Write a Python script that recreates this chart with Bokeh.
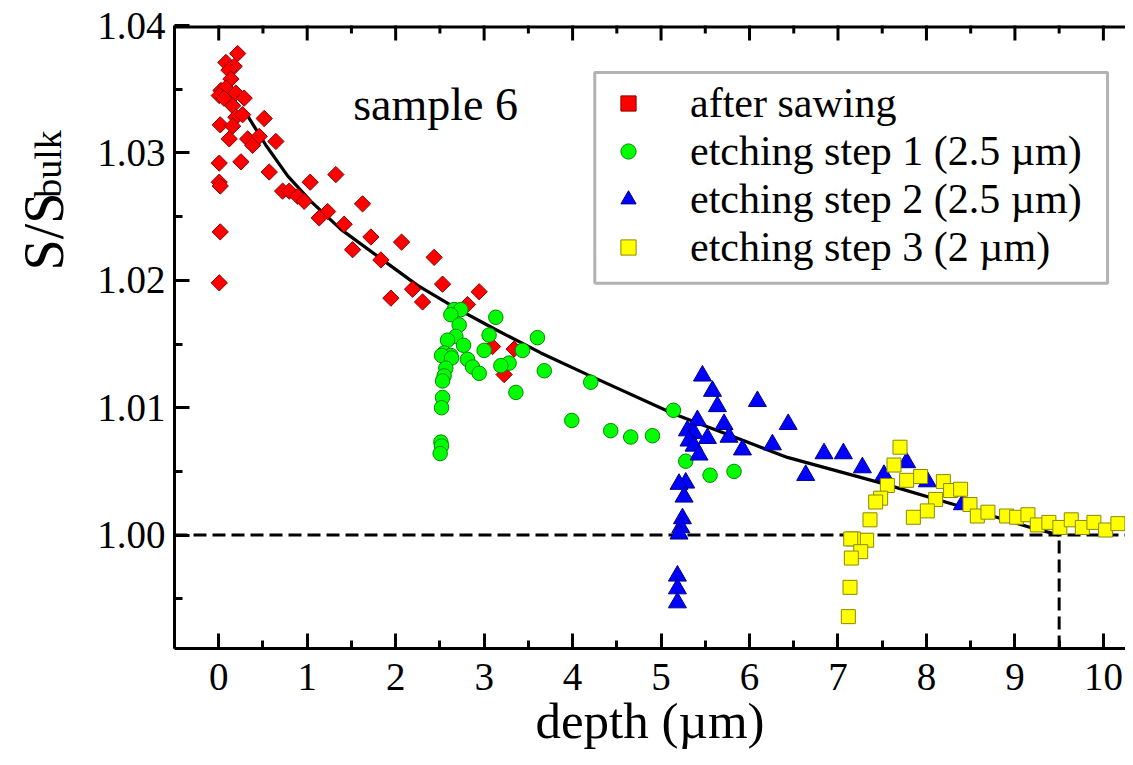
import numpy as np
from bokeh.plotting import figure
from bokeh.layouts import row
from bokeh.models import (FixedTicker, Label, Span, BoxAnnotation,
                          Legend, LegendItem, PrintfTickFormatter, Range1d)
from bokeh.embed import file_html
from bokeh.resources import INLINE

# ---------------- data ----------------
saw_x = [0.214, 0.081, 0.175, 0.115, 0.138, 0.025, 0.081, 0.006, 0.194, 0.059,
         0.288, 0.157, 0.194, 0.270, 0.514, 0.017, 0.157, 0.119, 0.327, 0.383,
         0.458, 0.646, 0.006, 0.251, 0.006, 0.017, 0.571, 1.034, 1.324, 0.722,
         0.797, 0.892, 0.966, 1.231, 1.136, 1.626, 1.418, 1.720, 2.067, 0.017,
         1.513, 1.833, 2.435, 2.530, 1.946, 2.191, 2.304, 2.944, 2.812, 3.095,
         3.339, 3.226, 0.006]
saw_y = [1.0378, 1.0371, 1.0368, 1.0365, 1.0358, 1.0349, 1.0351, 1.0345, 1.0347, 1.0343,
         1.0343, 1.0337, 1.0328, 1.0330, 1.0327, 1.0322, 1.0321, 1.0311, 1.0311, 1.0306,
         1.0313, 1.0309, 1.0292, 1.0293, 1.0277, 1.0274, 1.0285, 1.0277, 1.0283, 1.0270,
         1.0270, 1.0266, 1.0262, 1.0254, 1.0249, 1.0260, 1.0244, 1.0234, 1.0230, 1.0238,
         1.0224, 1.0216, 1.0218, 1.0197, 1.0186, 1.0193, 1.0183, 1.0191, 1.0181, 1.0148,
         1.0146, 1.0126, 1.0198]

etch1_x = [2.661, 2.737, 2.624, 2.718, 3.132, 3.056, 3.603, 2.680, 2.586, 2.767,
           3.000, 3.434, 2.548, 2.624, 2.519, 2.632, 2.812, 2.869, 2.944, 3.282,
           3.189, 2.567, 2.548, 2.530, 3.680, 3.359, 2.530, 2.519, 3.991, 2.511,
           2.519, 2.503, 4.205, 4.431, 4.657, 4.903, 5.140, 5.279, 5.554, 5.825]
etch1_y = [1.0177, 1.0177, 1.0173, 1.0165, 1.0171, 1.0157, 1.0155, 1.0156, 1.0153, 1.0149,
           1.0145, 1.0145, 1.0143, 1.0141, 1.0141, 1.0139, 1.0138, 1.0132, 1.0127, 1.0135,
           1.0133, 1.0131, 1.0125, 1.0121, 1.0129, 1.0112, 1.0108, 1.0100, 1.0090, 1.0073,
           1.0070, 1.0064, 1.0120, 1.0082, 1.0077, 1.0078, 1.0098, 1.0058, 1.0047, 1.0050]

etch2_x = [5.468, 5.581, 5.637, 6.089, 5.411, 5.712, 6.437, 5.298, 5.373, 5.524,
           5.768, 5.316, 5.373, 5.429, 5.920, 6.259, 5.279, 5.203, 5.260, 5.242,
           5.223, 5.203, 5.185, 5.185, 5.185, 6.635, 6.842, 7.061, 7.276, 7.520,
           7.776, 8.010, 8.406]
etch2_y = [1.0125, 1.0113, 1.0101, 1.0105, 1.0090, 1.0087, 1.0087, 1.0082, 1.0080, 1.0076,
           1.0077, 1.0074, 1.0070, 1.0063, 1.0067, 1.0071, 1.0041, 1.0040, 1.0030, 1.0013,
           1.0006, 1.0001, 0.9968, 0.9958, 0.9947, 1.0047, 1.0064, 1.0064, 1.0053, 1.0047,
           1.0057, 1.0042, 1.0024]

etch3_x = [7.701, 7.633, 7.776, 7.934, 8.191, 8.273, 8.386, 7.558, 7.482, 7.426,
           8.104, 8.010, 7.852, 8.492, 8.575, 8.695, 8.906, 9.019, 9.147, 9.253,
           9.384, 9.508, 9.637, 9.762, 9.893, 10.025, 10.164, 7.362, 7.324, 7.174,
           7.144, 7.257, 7.151, 7.136, 7.117]
etch3_y = [1.0069, 1.0055, 1.0043, 1.0046, 1.0042, 1.0035, 1.0036, 1.0039, 1.0029, 1.0026,
           1.0028, 1.0019, 1.0014, 1.0024, 1.0015, 1.0018, 1.0015, 1.0014, 1.0016, 1.0008,
           1.0010, 1.0006, 1.0012, 1.0006, 1.0010, 1.0004, 1.0009, 1.0012, 0.9996, 0.9997,
           0.9997, 0.9987, 0.9982, 0.9959, 0.9936]

fit_x = [0.327, 0.533, 0.779, 1.042, 1.381, 1.833, 2.247, 2.661, 3.113, 3.641,
         4.168, 5.147, 5.901, 6.428, 7.482, 8.311, 9.177, 9.5]
fit_y = [1.0329, 1.0306, 1.0282, 1.0262, 1.0240, 1.0217, 1.0196, 1.0179, 1.0162, 1.0143,
         1.0126, 1.0095, 1.0075, 1.0061, 1.0041, 1.0024, 1.0006, 1.0000]

bulk_level = 1.00
bulk_depth = 9.5

x_ticks = [0, 1, 2, 3, 4, 5, 6, 7, 8, 9, 10]
x_minor = [-0.5, 0.5, 1.5, 2.5, 3.5, 4.5, 5.5, 6.5, 7.5, 8.5, 9.5]
y_ticks = [1.00, 1.01, 1.02, 1.03, 1.04]
y_minor = [0.995, 1.005, 1.015, 1.025, 1.035]

labels = ["after sawing", "etching step 1 (2.5 \u00b5m)",
          "etching step 2 (2.5 \u00b5m)", "etching step 3 (2 \u00b5m)"]

X_MIN, X_MAX = -0.5, 10.25
Y_MIN, Y_MAX = 0.9911, 1.04

SERIF = "Liberation Serif"
H = 763
W_LEFT = 90

# ---------------- y-axis title strip (S/S with subscript "bulk") ----------------
pl = figure(width=W_LEFT, height=H, x_range=Range1d(0, W_LEFT), y_range=Range1d(0, H),
            min_border=0, output_backend="svg", toolbar_location=None,
            x_axis_location=None, y_axis_location=None)
pl.outline_line_color = None
pl.grid.visible = False
pl.background_fill_color = "white"
pl.border_fill_color = "white"
pl.add_layout(Label(x=43, y=H - 300, text="S/S", angle=np.pi / 2,
                    text_font=SERIF, text_font_size="56px", text_align="left",
                    text_baseline="alphabetic", text_color="black"))
pl.add_layout(Label(x=47, y=H - 211, text="bulk", angle=np.pi / 2,
                    text_font=SERIF, text_font_size="38px", text_align="left",
                    text_baseline="alphabetic", text_color="black"))

# ---------------- main figure ----------------
p = figure(frame_width=951, frame_height=623,
           x_range=Range1d(X_MIN, X_MAX), y_range=Range1d(Y_MIN, Y_MAX),
           output_backend="svg", toolbar_location=None,
           min_border_left=174 - W_LEFT, min_border_right=0,
           min_border_top=25, min_border_bottom=H - 25 - 623)
p.outline_line_color = None
p.xgrid.visible = False
p.ygrid.visible = False
p.background_fill_color = "white"
p.border_fill_color = "white"


def style_axis(ax, ticks, minor):
    ax.ticker = FixedTicker(ticks=ticks, minor_ticks=minor)
    ax.axis_line_width = 3
    ax.axis_line_color = "black"
    ax.major_tick_in = 15
    ax.major_tick_out = 0
    ax.minor_tick_in = 8
    ax.minor_tick_out = 0
    ax.major_tick_line_width = 3
    ax.minor_tick_line_width = 3
    ax.major_label_text_font = SERIF
    ax.major_label_text_color = "black"
    ax.major_label_text_font_size = "39px"


style_axis(p.xaxis[0], x_ticks, x_minor)
p.xaxis[0].major_label_standoff = 15
p.xaxis[0].axis_label = "depth (\u00b5m)"
p.xaxis[0].axis_label_text_font = SERIF
p.xaxis[0].axis_label_text_font_size = "51px"
p.xaxis[0].axis_label_text_font_style = "normal"
p.xaxis[0].axis_label_text_color = "black"
p.xaxis[0].axis_label_standoff = 0

style_axis(p.yaxis[0], y_ticks, y_minor)
p.yaxis[0].major_label_standoff = 9
p.yaxis[0].formatter = PrintfTickFormatter(format="%.2f")

# top frame edge with inward ticks (half of each mark is clipped by the frame)
p.segment(x0=[X_MIN], y0=[Y_MAX], x1=[X_MAX], y1=[Y_MAX],
          line_color="black", line_width=6)
p.scatter(x_ticks, [Y_MAX] * len(x_ticks), marker="dash", angle=np.pi / 2,
          size=30, line_color="black", line_width=3)
p.scatter(x_minor, [Y_MAX] * len(x_minor), marker="dash", angle=np.pi / 2,
          size=16, line_color="black", line_width=3)

# reference lines
p.add_layout(Span(location=bulk_level, dimension="width", line_color="black",
                  line_width=3, line_dash="13 6", level="underlay"))
p.segment(x0=[bulk_depth], y0=[Y_MIN], x1=[bulk_depth], y1=[bulk_level],
          line_color="black", line_width=3, line_dash="13 6")

# fit curve
p.line(fit_x, fit_y, line_color="black", line_width=3.2)

r_saw = p.scatter(saw_x, saw_y, marker="square", angle=np.pi / 4, size=11.5,
                  fill_color="#ff0000", line_color="#8a0000", line_width=1)
r_e1 = p.scatter(etch1_x, etch1_y, marker="circle", size=14.5,
                 fill_color="#00ff00", line_color="#008a00", line_width=1)
r_e2 = p.scatter(etch2_x, etch2_y, marker="triangle", size=18,
                 fill_color="#0000ff", line_color="#00008a", line_width=1)
r_e3 = p.scatter(etch3_x, etch3_y, marker="square", size=14,
                 fill_color="#ffff00", line_color="#8a8a00", line_width=1)

legend = Legend(items=[LegendItem(label=labels[0], renderers=[r_saw]),
                       LegendItem(label=labels[1], renderers=[r_e1]),
                       LegendItem(label=labels[2], renderers=[r_e2]),
                       LegendItem(label=labels[3], renderers=[r_e3])],
                location=(435, 377), margin=0, padding=10, spacing=0,
                glyph_width=38, glyph_height=46, label_height=46,
                label_standoff=43, label_text_font=SERIF,
                label_text_font_size="42px", label_text_color="black",
                border_line_color=None, background_fill_alpha=0)
p.add_layout(legend)
p.add_layout(BoxAnnotation(left=4.251, right=10.047, bottom=1.01976, top=1.03631,
                           fill_color=None, fill_alpha=0, line_color="black",
                           line_width=3))

p.add_layout(Label(x=1.52, y=1.0338, text="sample 6", text_font=SERIF,
                   text_font_size="46px", text_align="left",
                   text_baseline="alphabetic", text_color="black"))

layout = row(pl, p)
open("out.html", "w").write(file_html(layout, INLINE))
